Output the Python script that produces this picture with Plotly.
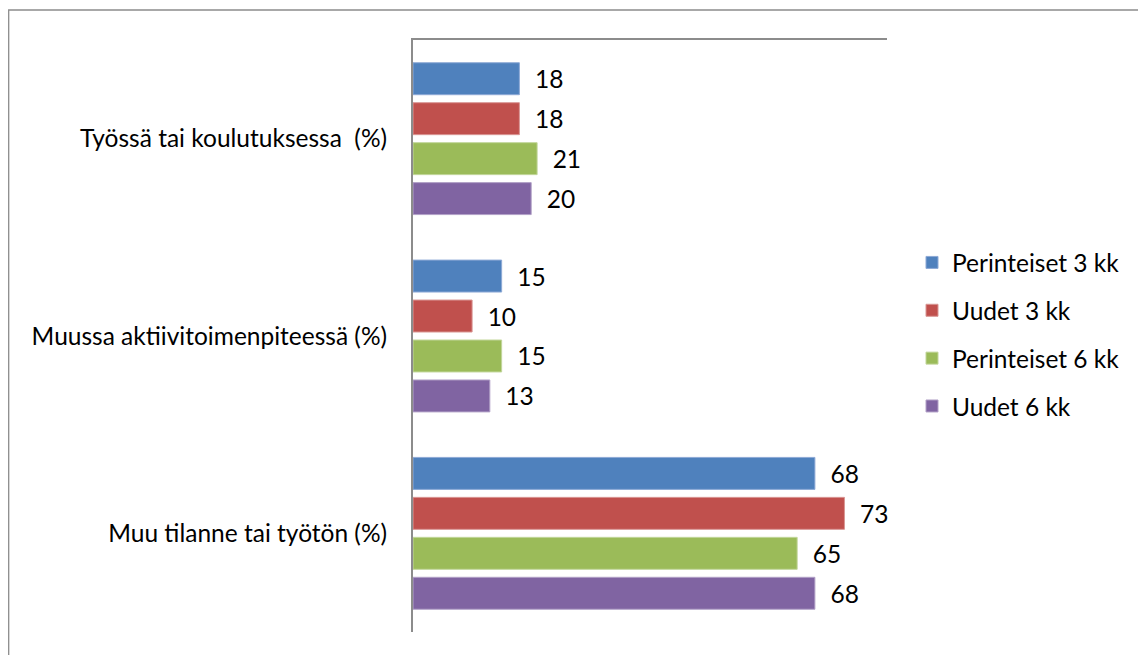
import plotly.graph_objects as go

categories = ["Työssä tai koulutuksessa  (%)", "Muussa aktiivitoimenpiteessä (%)", "Muu tilanne tai työtön (%)"]
series_names = ["Perinteiset 3 kk", "Uudet 3 kk", "Perinteiset 6 kk", "Uudet 6 kk"]
perinteiset_3kk = [18, 15, 68]
uudet_3kk = [18, 10, 73]
perinteiset_6kk = [21, 15, 65]
uudet_6kk = [20, 13, 68]
series_values = [perinteiset_3kk, uudet_3kk, perinteiset_6kk, uudet_6kk]

colors = ["#4F81BD", "#C0504D", "#9BBB59", "#8064A2"]
edge_colors = ["#8DA9D6", "#D99694", "#C2D69B", "#B2A1C7"]

FONT = "Lato"
FS = 24.5
OFF = 8  # page body margin
W, H = 1146 - OFF, 655 - OFF
L = 413 - OFF
T = 40 - OFF
R = W - (887 - OFF)
B = H - (632 - OFF)

fig = go.Figure()
for name, vals, c, ec in zip(series_names, series_values, colors, edge_colors):
    fig.add_trace(go.Bar(
        y=categories, x=vals, name=name, orientation="h",
        marker=dict(color=c, line=dict(color=ec, width=1)),
        text=vals, texttemplate="  %{x}", textposition="outside",
        textfont=dict(family=FONT, size=FS, color="#000000"),
        cliponaxis=False, legendgroup=name,
    ))

pw = W - L - R
ph = H - T - B


def px_x(page_x):
    return (page_x - OFF - L) / pw


def px_y(page_y):
    return (H - B - (page_y - OFF)) / ph


fig.add_shape(type="rect", xref="paper", yref="paper",
              x0=px_x(8.7), x1=px_x(1145),
              y0=px_y(680), y1=px_y(10),
              line=dict(color="#8C8C8C", width=1.3), layer="below")

fig.update_layout(
    width=W, height=H,
    margin=dict(l=L, r=R, t=T, b=B, pad=0),
    paper_bgcolor="white", plot_bgcolor="white",
    barmode="group", bargap=0.19, bargroupgap=0.2,
    font=dict(family=FONT, size=FS, color="#000000"),
    showlegend=True,
    legend=dict(x=px_x(912), xanchor="left", y=px_y(240), yanchor="top",
                font=dict(family=FONT, size=FS), tracegroupgap=13,
                itemwidth=30, bgcolor="rgba(0,0,0,0)"),
    xaxis=dict(range=[0, 80.2], side="top", showline=True, linecolor="#8C8C8C", linewidth=1.5,
               showticklabels=False, ticks="", showgrid=False, zeroline=False, fixedrange=True),
    yaxis=dict(autorange="reversed", showline=True, linecolor="#8C8C8C", linewidth=2,
               ticks="", showgrid=False, zeroline=False, ticklabelstandoff=19,
               tickfont=dict(family=FONT, size=FS)),
)

fig.write_html("out.html")
